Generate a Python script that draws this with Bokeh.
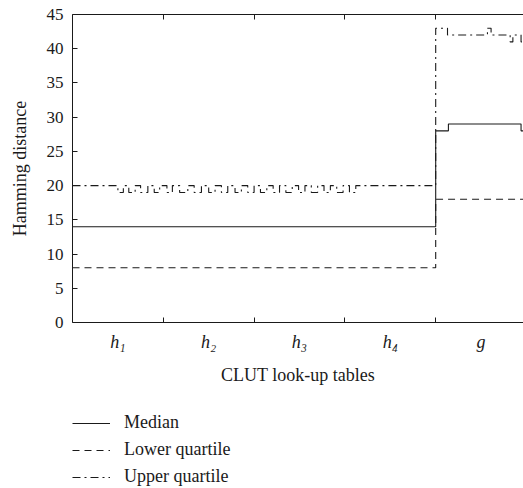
from bokeh.plotting import figure
from bokeh.layouts import column
from bokeh.models import FixedTicker, LinearAxis, Legend, LegendItem, Range1d
from bokeh.embed import file_html
from bokeh.resources import INLINE

# ---- data ----
categories = ["h\u2081", "h\u2082", "h\u2083", "h\u2084", "g"]
y_ticks = [0, 5, 10, 15, 20, 25, 30, 35, 40, 45]

median_x = [0.0, 4.0, 4.14, 4.94, 5.0]
median_y = [14, 28, 29, 28, 28]

lower_x = [0.0, 4.0, 5.0]
lower_y = [8, 18, 18]

upper_x = [0.0, 0.50, 0.56, 0.62, 0.69, 0.75, 0.83, 0.90, 0.96, 1.04, 1.10,
           1.18, 1.27, 1.34, 1.42, 1.50, 1.57, 1.64, 1.71, 1.79, 1.86,
           1.93, 2.00, 2.07, 2.14, 2.21, 2.28, 2.35, 2.42, 2.49, 2.56,
           2.63, 2.70, 2.77, 2.84, 2.91, 2.98, 3.05, 3.12,
           3.18, 4.0, 4.13, 4.57, 4.61, 4.82, 4.85, 4.94, 5.0]
upper_y = [20,
           19, 20, 19, 20, 19, 20, 19, 20, 19, 20,
           19, 20, 19, 20, 19, 20, 19, 20, 19, 20,
           19, 20, 19, 20, 19, 20, 19, 20, 19, 20,
           19, 20, 19, 20, 19, 20, 19, 20,
           20, 43, 42, 43, 42, 41, 42, 41, 41]

x_label = "CLUT look-up tables"
y_label = "Hamming distance"
series_names = ["Median", "Lower quartile", "Upper quartile"]

FONT = "Liberation Serif"
INK = "#1a1a1a"
DASHES = [None, "7 5", "8 4 2 4"]
SERIES = [(median_x, median_y), (lower_x, lower_y), (upper_x, upper_y)]

centers = [i + 0.5 for i in range(len(categories))]
bounds = [i for i in range(1, len(categories))]


def add_series(fig):
    rs = []
    for (xs, ys), dash in zip(SERIES, DASHES):
        kw = dict(mode="after", line_color=INK, line_width=1.1)
        if dash:
            kw["line_dash"] = dash
        rs.append(fig.step(xs, ys, **kw))
    return rs


p = figure(width=523, height=400,
           x_range=Range1d(0, 4.967), y_range=Range1d(0, 45),
           output_backend="svg", toolbar_location=None,
           min_border_left=72, min_border_right=0, min_border_top=14,
           min_border_bottom=78, outline_line_color=None,
           background_fill_color="white", border_fill_color="white")
p.xgrid.visible = False
p.ygrid.visible = False
add_series(p)

# x axis
xa = p.xaxis[0]
xa.ticker = FixedTicker(ticks=centers, minor_ticks=bounds)
xa.major_label_overrides = {c: lab for c, lab in zip(centers, categories)}
xa.major_tick_line_color = None
xa.major_tick_in = 0
xa.major_tick_out = 0
xa.minor_tick_in = 5
xa.minor_tick_out = 0
xa.minor_tick_line_color = INK
xa.axis_line_color = INK
xa.major_label_text_font = FONT
xa.major_label_text_font_style = "italic"
xa.major_label_text_font_size = "18px"
xa.major_label_text_color = INK
xa.major_label_standoff = 9
xa.axis_label = x_label
xa.axis_label_text_font = FONT
xa.axis_label_text_font_style = "normal"
xa.axis_label_text_font_size = "18px"
xa.axis_label_text_color = INK
xa.axis_label_standoff = 10

# y axis
ya = p.yaxis[0]
ya.ticker = FixedTicker(ticks=y_ticks)
ya.major_tick_in = 5
ya.major_tick_out = 0
ya.minor_tick_line_color = None
ya.axis_line_color = INK
ya.major_tick_line_color = INK
ya.major_label_text_font = FONT
ya.major_label_text_font_size = "17px"
ya.major_label_text_color = INK
ya.major_label_standoff = 9
ya.axis_label = y_label
ya.axis_label_text_font = FONT
ya.axis_label_text_font_style = "normal"
ya.axis_label_text_font_size = "18px"
ya.axis_label_text_color = INK
ya.axis_label_standoff = 14

# top axis with inward ticks at category boundaries
ta = LinearAxis(ticker=FixedTicker(ticks=[], minor_ticks=bounds),
                major_label_text_font_size="0px", major_label_standoff=0,
                major_tick_line_color=None, minor_tick_in=5, minor_tick_out=0,
                minor_tick_line_color=INK, axis_line_color=INK)
p.add_layout(ta, "above")

# legend strip below the chart (same series, out of its visible range)
lf = figure(width=523, height=88, x_range=Range1d(10, 11), y_range=Range1d(0, 1),
            output_backend="svg", toolbar_location=None,
            x_axis_location=None, y_axis_location=None,
            min_border=0, min_border_left=0, min_border_right=0,
            min_border_top=0, min_border_bottom=0, outline_line_color=None,
            background_fill_color="white", border_fill_color="white")
lf.xgrid.visible = False
lf.ygrid.visible = False
lrs = add_series(lf)
legend = Legend(items=[LegendItem(label=n, renderers=[r]) for n, r in zip(series_names, lrs)],
                location=(0, 1), orientation="vertical",
                label_text_font=FONT, label_text_font_size="18px",
                label_text_color=INK, glyph_width=38, glyph_height=20,
                label_height=20, spacing=6, label_standoff=14,
                padding=0, margin=0, border_line_color=None,
                background_fill_alpha=0)
lf.add_layout(legend, "center")

open("out.html", "w").write(file_html(column(p, lf, spacing=0), INLINE))
